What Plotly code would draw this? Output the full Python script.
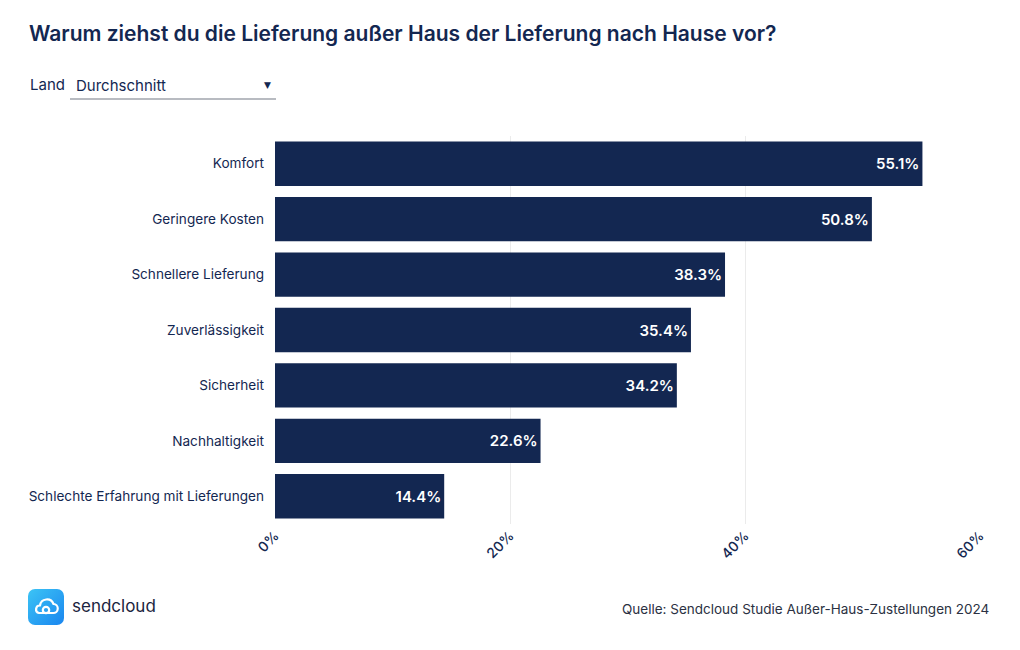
import plotly.graph_objects as go
import base64

categories = ["Komfort", "Geringere Kosten", "Schnellere Lieferung", "Zuverlässigkeit",
              "Sicherheit", "Nachhaltigkeit", "Schlechte Erfahrung mit Lieferungen"]
values = [55.1, 50.8, 38.3, 35.4, 34.2, 22.6, 14.4]
tick_vals = [0, 20, 40, 60]
tick_text = ["0%", "20%", "40%", "60%"]

NAVY = "#132751"
FONT = "Inter"

W, H = 1020, 650
L, R, T, B = 275, 40, 136, 126
PW, PH = W - L - R, H - T - B

def px(x):
    return (x - L) / PW

def py(y):
    return (H - B - y) / PH

fig = go.Figure(go.Bar(
    y=categories, x=values, orientation="h",
    marker=dict(color=NAVY, line=dict(width=0)),
    text=[f"{v:.1f}%" for v in values],
    textposition="inside", insidetextanchor="end",
    textfont=dict(color="white", size=15, family=FONT, weight=600),
    hoverinfo="skip",
))

fig.update_layout(
    width=W, height=H,
    margin=dict(l=L, r=R, t=T, b=B),
    paper_bgcolor="white", plot_bgcolor="white",
    bargap=0.2,
    showlegend=False,
    font=dict(family=FONT, color=NAVY),
    xaxis=dict(range=[0, 60], tickvals=tick_vals, ticktext=tick_text,
               tickangle=-45, showgrid=True, gridcolor="#ebebeb", gridwidth=1,
               zeroline=False, showline=False, ticks="",
               tickfont=dict(size=14, color=NAVY, family=FONT, weight=500)),
    yaxis=dict(autorange="reversed", ticks="", showgrid=False,
               ticklabelstandoff=10,
               tickfont=dict(size=13.6, color=NAVY, family=FONT)),
)

annotations = [
    dict(text="Warum ziehst du die Lieferung außer Haus der Lieferung nach Hause vor?",
         x=px(27), y=py(33), xref="paper", yref="paper", xanchor="left", yanchor="middle",
         showarrow=False, font=dict(size=21, color=NAVY, family=FONT, weight=600)),
    dict(text="Land", x=px(28), y=py(84), xref="paper", yref="paper", xanchor="left",
         yanchor="middle", showarrow=False, font=dict(size=15, color=NAVY, family=FONT)),
    dict(text="Durchschnitt", x=px(74), y=py(85), xref="paper", yref="paper", xanchor="left",
         yanchor="middle", showarrow=False, font=dict(size=15, color=NAVY, family=FONT)),
    dict(text="▼", x=px(267), y=py(85), xref="paper", yref="paper", xanchor="center",
         yanchor="middle", showarrow=False, font=dict(size=9, color=NAVY, family="DejaVu Sans")),
    dict(text="sendcloud", x=px(70), y=py(606), xref="paper", yref="paper", xanchor="left",
         yanchor="middle", showarrow=False, font=dict(size=17, color="#1b2440", family=FONT)),
    dict(text="Quelle: Sendcloud Studie Außer-Haus-Zustellungen 2024", x=px(991), y=py(609),
         xref="paper", yref="paper", xanchor="right", yanchor="middle", showarrow=False,
         font=dict(size=13.5, color="#2b3142", family=FONT)),
]
fig.update_layout(annotations=annotations)

fig.add_shape(type="line", xref="paper", yref="paper",
              x0=px(70), x1=px(276), y0=py(99), y1=py(99),
              line=dict(color="#a0a4ad", width=1.5))

svg = """<svg xmlns='http://www.w3.org/2000/svg' width='36' height='36' viewBox='0 0 36 36'>
<defs><linearGradient id='g' x1='0' y1='0' x2='1' y2='1'>
<stop offset='0' stop-color='#3cc4f5'/><stop offset='1' stop-color='#1a86ef'/></linearGradient></defs>
<rect x='0' y='0' width='36' height='36' rx='7' fill='url(#g)'/>
<path d='M11 24 h14 a4.5 4.5 0 0 0 0.5 -9 a7 7 0 0 0 -13.5 1.5 a3.8 3.8 0 0 0 -1 7.5 z'
 fill='none' stroke='white' stroke-width='2.2' stroke-linejoin='round'/>
<circle cx='18' cy='21' r='3.2' fill='none' stroke='white' stroke-width='2.2'/>
</svg>"""
src = "data:image/svg+xml;base64," + base64.b64encode(svg.encode()).decode()
fig.add_layout_image(dict(source=src, xref="paper", yref="paper",
                          x=px(28), y=py(589), sizex=36 / PW, sizey=36 / PH,
                          xanchor="left", yanchor="top", sizing="stretch", layer="above"))

fig.write_html("out.html", config={"displayModeBar": False},
               post_script="document.body.style.margin='0';document.body.style.padding='0';")
